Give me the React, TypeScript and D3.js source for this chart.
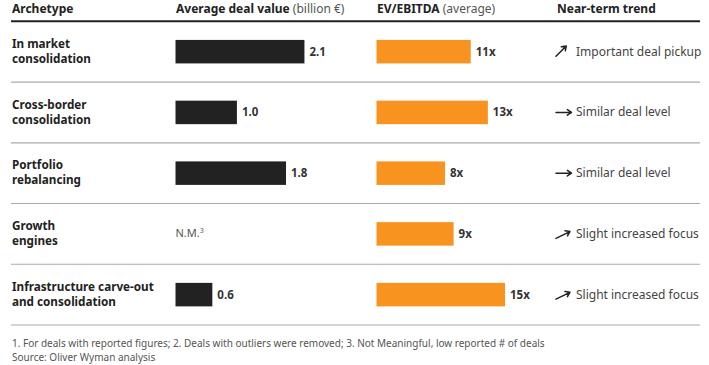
import React from 'react';
import * as d3 from 'd3';

const archetypes = [
  ['In market', 'consolidation'],
  ['Cross-border', 'consolidation'],
  ['Portfolio', 'rebalancing'],
  ['Growth', 'engines'],
  ['Infrastructure carve-out', 'and consolidation'],
];
const dealValues: (number | null)[] = [2.1, 1.0, 1.8, null, 0.6];
const evEbitda = [11, 13, 8, 9, 15];
const trends = ['up', 'flat', 'flat', 'slight', 'slight'];
const trendLabels = [
  'Important deal pickup',
  'Similar deal level',
  'Similar deal level',
  'Slight increased focus',
  'Slight increased focus',
];
const footnotes = [
  '1. For deals with reported figures; 2. Deals with outliers were removed; 3. Not Meaningful, low reported # of deals',
  'Source: Oliver Wyman analysis',
];

const W = 709;
const H = 365;
const FONT = '"Noto Sans", "Open Sans", sans-serif';
const ORANGE = '#f7931e';
const DARK = '#222222';

// arrow angle per trend type (degrees above horizontal) and length
const arrowStyle: Record<string, { angle: number; len: number }> = {
  up: { angle: 45, len: 14.5 },
  flat: { angle: 0, len: 15.5 },
  slight: { angle: 26, len: 15.5 },
};

const Arrow: React.FC<{ x: number; y: number; type: string }> = ({ x, y, type }) => {
  const { angle, len } = arrowStyle[type];
  const a = (angle * Math.PI) / 180;
  const x2 = x + len * Math.cos(a);
  const y2 = y - len * Math.sin(a);
  const head = 5;
  const h1 = a + Math.PI - 0.6;
  const h2 = a + Math.PI + 0.6;
  const d = `M${x},${y}L${x2},${y2}M${x2 + head * Math.cos(h1)},${y2 - head * Math.sin(h1)}L${x2},${y2}L${x2 + head * Math.cos(h2)},${y2 - head * Math.sin(h2)}`;
  return <path d={d} fill="none" stroke={DARK} strokeWidth={1.5} strokeLinecap="round" strokeLinejoin="round" />;
};

export default function App() {
  const ids = archetypes.map((_, i) => String(i));
  const y = d3.scaleBand<string>().domain(ids).range([21.3, 325]).paddingInner(0).paddingOuter(0);
  const xDeal = d3.scaleLinear().domain([0, 2.5]).range([175.5, 175.5 + 153.5]);
  const xEv = d3.scaleLinear().domain([0, 15]).range([376.5, 376.5 + 128.5]);
  const barH = 23.5;

  return (
    <div>
      <style>{'body{margin:0}'}</style>
      <svg width={W} height={H} style={{ display: 'block', background: '#fff' }} fontFamily={FONT}>
        {/* header */}
        <g fontSize={12} fill={DARK}>
          <text x={12} y={13} fontWeight="bold">Archetype</text>
          <text x={176} y={13}>
            <tspan fontWeight="bold">Average deal value</tspan>
            <tspan fill="#555"> (billion €)</tspan>
          </text>
          <text x={377} y={13}>
            <tspan fontWeight="bold">EV/EBITDA</tspan>
            <tspan fill="#555"> (average)</tspan>
          </text>
          <text x={557} y={13} fontWeight="bold">Near-term trend</text>
        </g>
        <line x1={11} x2={700} y1={21.3} y2={21.3} stroke={DARK} strokeWidth={2} />

        {ids.map((id, i) => {
          const y0 = y(id)!;
          const cy = y0 + y.bandwidth() / 2;
          const dv = dealValues[i];
          return (
            <g key={id}>
              <text x={12} y={cy - 3.7} fontSize={11.7} fontWeight="bold" fill={DARK}>{archetypes[i][0]}</text>
              <text x={12} y={cy + 11.3} fontSize={11.7} fontWeight="bold" fill={DARK}>{archetypes[i][1]}</text>
              {dv !== null ? (
                <>
                  <rect x={xDeal(0)} y={cy - barH / 2} width={xDeal(dv) - xDeal(0)} height={barH} fill={DARK} />
                  <text x={xDeal(dv) + 5} y={cy + 4} fontSize={11.5} fontWeight="bold" fill="#333">
                    {dv.toFixed(1)}
                  </text>
                </>
              ) : (
                <text x={xDeal(0)} y={cy + 3} fontSize={11} fill="#555">
                  N.M.<tspan fontSize={7} dy={-4}>3</tspan>
                </text>
              )}
              <rect x={xEv(0)} y={cy - barH / 2} width={xEv(evEbitda[i]) - xEv(0)} height={barH} fill={ORANGE} />
              <text x={xEv(evEbitda[i]) + 5} y={cy + 4} fontSize={11.5} fontWeight="bold" fill="#333">
                {evEbitda[i]}x
              </text>
              <Arrow x={556} y={trends[i] === 'flat' ? cy : cy + 4.5} type={trends[i]} />
              <text x={576} y={cy + 4} fontSize={12} fill="#444">{trendLabels[i]}</text>
              <line x1={11} x2={700} y1={y0 + y.bandwidth()} y2={y0 + y.bandwidth()} stroke="#aaa" strokeWidth={1.2} />
            </g>
          );
        })}

        <g fontSize={10} fill="#555">
          {footnotes.map((f, i) => (
            <text key={i} x={12} y={346.5 + i * 14}>{f}</text>
          ))}
        </g>
      </svg>
    </div>
  );
}
